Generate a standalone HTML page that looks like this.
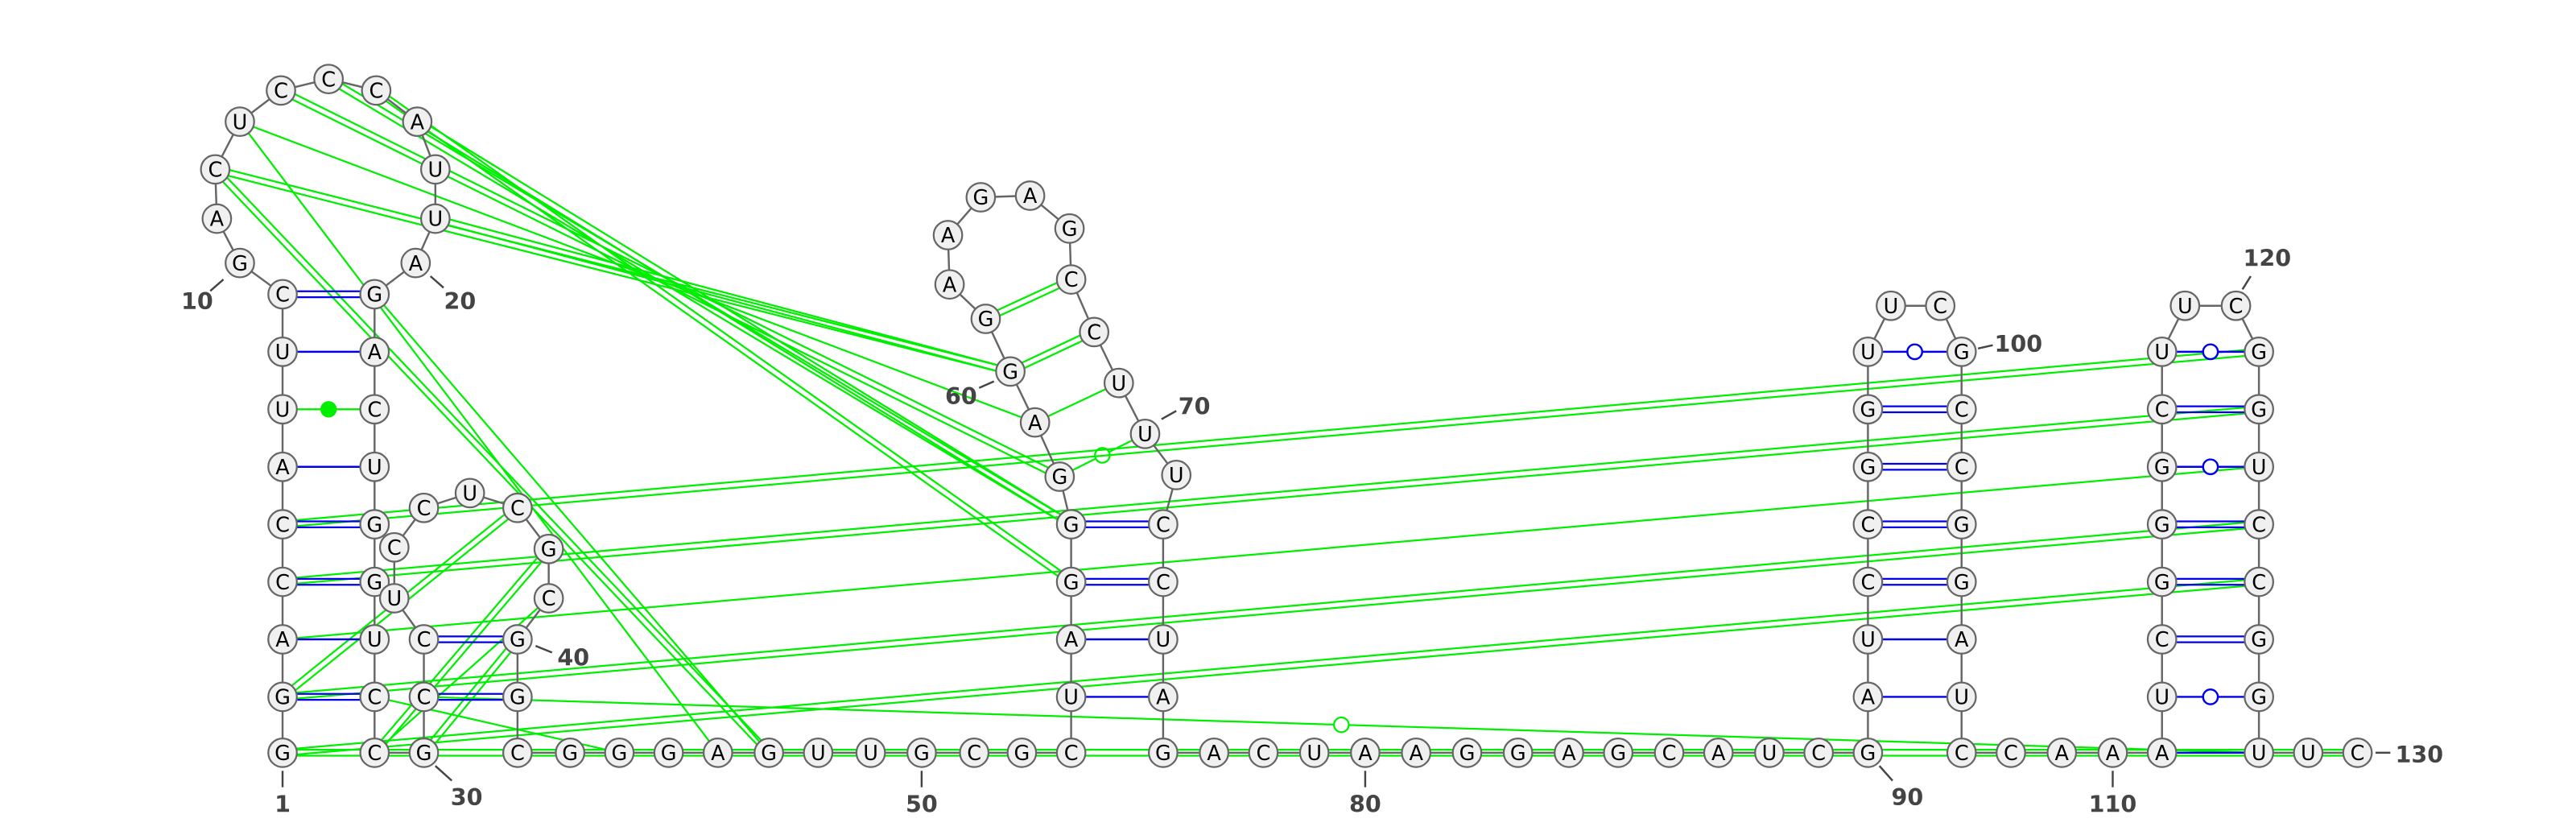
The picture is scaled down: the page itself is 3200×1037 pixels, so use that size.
<!DOCTYPE html>
<html><head><meta charset="utf-8"><style>
html,body{margin:0;padding:0;background:#fff;}
svg{display:block;}
text{font-family:"DejaVu Sans","Liberation Sans",sans-serif;}
</style></head><body>
<svg id="rna" width="3200" height="1037" viewBox="0 0 1568 508" xmlns="http://www.w3.org/2000/svg">
<g id="gGreen"></g>
<g id="gBack"></g>
<g id="gPairs"></g>
<g id="gNuc"></g>
<g id="gLab"></g>
</svg>
<script>
const seq = "GGACCAUUCG"+"ACUCCCAUUA"+"GACUGGUCCG"+"CCUCCUCGCG"+"GCGGGAGUUG"+"CGCUAGGGAG"+"GAAGAGCCUU"+"UCCUAGACUA"+"AGGAGCAUCG"+"AUCCGGUUCG"+"CCGGAUCCAA"+"AUCGGGCUUC"+"GGUCCGGUUC";
const nx = [0,172,172,172,172,172,172,172,172,172,146,132,131,146,171,200,229,254,265,265,253,228,228,228,228,228,228,228,228,228,258,258,258,240,240,258,286,315,334,334,315,315,315,347,377,407,437,468,498,530,561,593,622,652,652,652,652,652,645,630,615,600,578,577,597,627,651,652,666,681,697,716,708,708,708,708,708,739,769,800,831,862,893,924,955,985,1016,1046,1077,1107,1137,1137,1137,1137,1137,1137,1137,1137,1151,1181,1194,1194,1194,1194,1194,1194,1194,1194,1224,1255,1286,1316,1316,1316,1316,1316,1316,1316,1316,1330,1361,1375,1375,1375,1375,1375,1375,1375,1375,1405,1435];
const ny = [0,458,424,389,354,319,284,249,214,179,160,133,103,74,55,48,55,74,103,133,160,179,214,249,284,319,354,389,424,458,458,424,389,364,333,309,300,309,334,364,389,424,458,458,458,458,458,458,458,458,458,458,458,458,424,389,354,319,290,257,226,194,173,143,120,119,139,170,202,233,264,289,319,354,389,424,458,458,458,458,458,458,458,458,458,458,458,458,458,458,458,424,389,354,319,284,249,214,186,186,214,249,284,319,354,389,424,458,458,458,458,458,424,389,354,319,284,249,214,186,186,214,249,284,319,354,389,424,458,458,458];
const pairs = [[9,21,2],[8,22,1],[7,23,'d'],[6,24,1],[5,25,2],[4,26,2],[3,27,1],[2,28,2],[32,40,2],[31,41,2],[57,72,2],[56,73,2],[55,74,1],[54,75,1],[97,100,'o'],[96,101,2],[95,102,2],[94,103,2],[93,104,2],[92,105,1],[91,106,1],[118,121,'o'],[117,122,2],[116,123,'o'],[115,124,2],[114,125,2],[113,126,2],[112,127,'o'],[111,128,1]];
const green = [[12,60,2],[12,47,2],[13,46,1],[13,59,1],[14,58,2],[15,57,2],[16,56,2],[17,57,2],[19,60,2],[21,47,1],[61,67,2],[60,68,2],[59,69,1],[58,70,'o'],[5,121,2],[4,122,2],[3,123,1],[2,124,2],[1,125,2],[31,128,'o'],[38,29,2],[40,30,2],[39,29,1],[37,2,2],[28,44,1]];
const labels = [[1,172,494,'middle'],[10,120,188,'middle'],[20,280,188,'middle'],[30,284,490,'middle'],[40,349,405,'middle'],[50,561,494,'middle'],[60,585,246,'middle'],[70,727,252,'middle'],[80,831,494,'middle'],[90,1161,490,'middle'],[100,1214,214,'start'],[110,1286,494,'middle'],[120,1380,162,'middle'],[130,1458,464,'start']];
const NS="http://www.w3.org/2000/svg";
function mk(t,a,p){const e=document.createElementNS(NS,t);for(const k in a)e.setAttribute(k,a[k]);p.appendChild(e);return e;}
function dbl(x1,y1,x2,y2,col,g,off){const dx=x2-x1,dy=y2-y1,L=Math.hypot(dx,dy)||1,ox=-dy/L*off,oy=dx/L*off;
 mk('line',{x1:x1+ox,y1:y1+oy,x2:x2+ox,y2:y2+oy,stroke:col,'stroke-width':1.1},g);
 mk('line',{x1:x1-ox,y1:y1-oy,x2:x2-ox,y2:y2-oy,stroke:col,'stroke-width':1.1},g);}
const gG=document.getElementById('gGreen'),gB=document.getElementById('gBack'),gP=document.getElementById('gPairs'),gN=document.getElementById('gNuc'),gL=document.getElementById('gLab');
dbl(172,458,1435,458,'#00ee00',gG,1.8);
green.forEach(([i,j,t])=>{
 const x1=nx[i],y1=ny[i],x2=nx[j],y2=ny[j];
 if(t===2){dbl(x1,y1,x2,y2,'#00ee00',gG,1.8);}
 else{const l=mk('line',{x1,y1,x2,y2,stroke:'#00ee00','stroke-width':1.1},gG);
  
  
  if(t==='o'){mk('circle',{cx:(x1+x2)/2,cy:(y1+y2)/2,r:4.5,fill:'#fff',stroke:'#00ee00','stroke-width':1.1},gG);}}
});
for(let i=1;i<seq.length;i++){mk('line',{x1:nx[i],y1:ny[i],x2:nx[i+1],y2:ny[i+1],stroke:'#666','stroke-width':1.2},gB);}
pairs.forEach(([i,j,t])=>{
 const x1=nx[i],y1=ny[i],x2=nx[j],y2=ny[j];
 if(t===2)dbl(x1,y1,x2,y2,'#0000ee',gP,1.8);
 else if(t==='d'){mk('line',{x1,y1,x2,y2,stroke:'#00ee00','stroke-width':1.2},gP);mk('circle',{cx:(x1+x2)/2,cy:(y1+y2)/2,r:5,fill:'#00ee00'},gP);}
 else{mk('line',{x1,y1,x2,y2,stroke:'#0000ee','stroke-width':1.2},gP);
  if(t==='o')mk('circle',{cx:(x1+x2)/2,cy:(y1+y2)/2,r:4.5,fill:'#fff',stroke:'#0000ee','stroke-width':1.2},gP);}
});
for(let i=1;i<=seq.length;i++){
 const g=mk('g',{},gN);
 
 
 mk('circle',{cx:nx[i],cy:ny[i],r:8.7,fill:'#f0f0f0',stroke:'#666','stroke-width':1.1},g);
 const t=mk('text',{x:nx[i],y:ny[i]+4.5,'text-anchor':'middle','font-size':12.5,fill:'#000'},g);
 t.textContent=seq[i-1];
}
labels.forEach(([n,x,y,a])=>{
 const t=mk('text',{x,y,'text-anchor':a,'font-size':14,fill:'#444','font-weight':'bold'},gL);
 
 
 t.textContent=n;
});
[[1,172,469,172,479],[50,561,469,561,479],[80,831,469,831,479],[110,1286,469,1286,479],[30,265,466,275,475],[90,1144,466,1152,475],[10,136,170,128,177],[20,262,168,270,175],[40,326,393,336,397],[60,605,232,596,236],[70,707,255,716,250],[100,1204,212,1213,210],[120,1365,176,1370,168],[130,1446,458,1455,458]].forEach(([n,x1,y1,x2,y2])=>{
 const l=mk('line',{x1,y1,x2,y2,stroke:'#444','stroke-width':1.2},gL);
 
 
});
</script>
</body></html>
